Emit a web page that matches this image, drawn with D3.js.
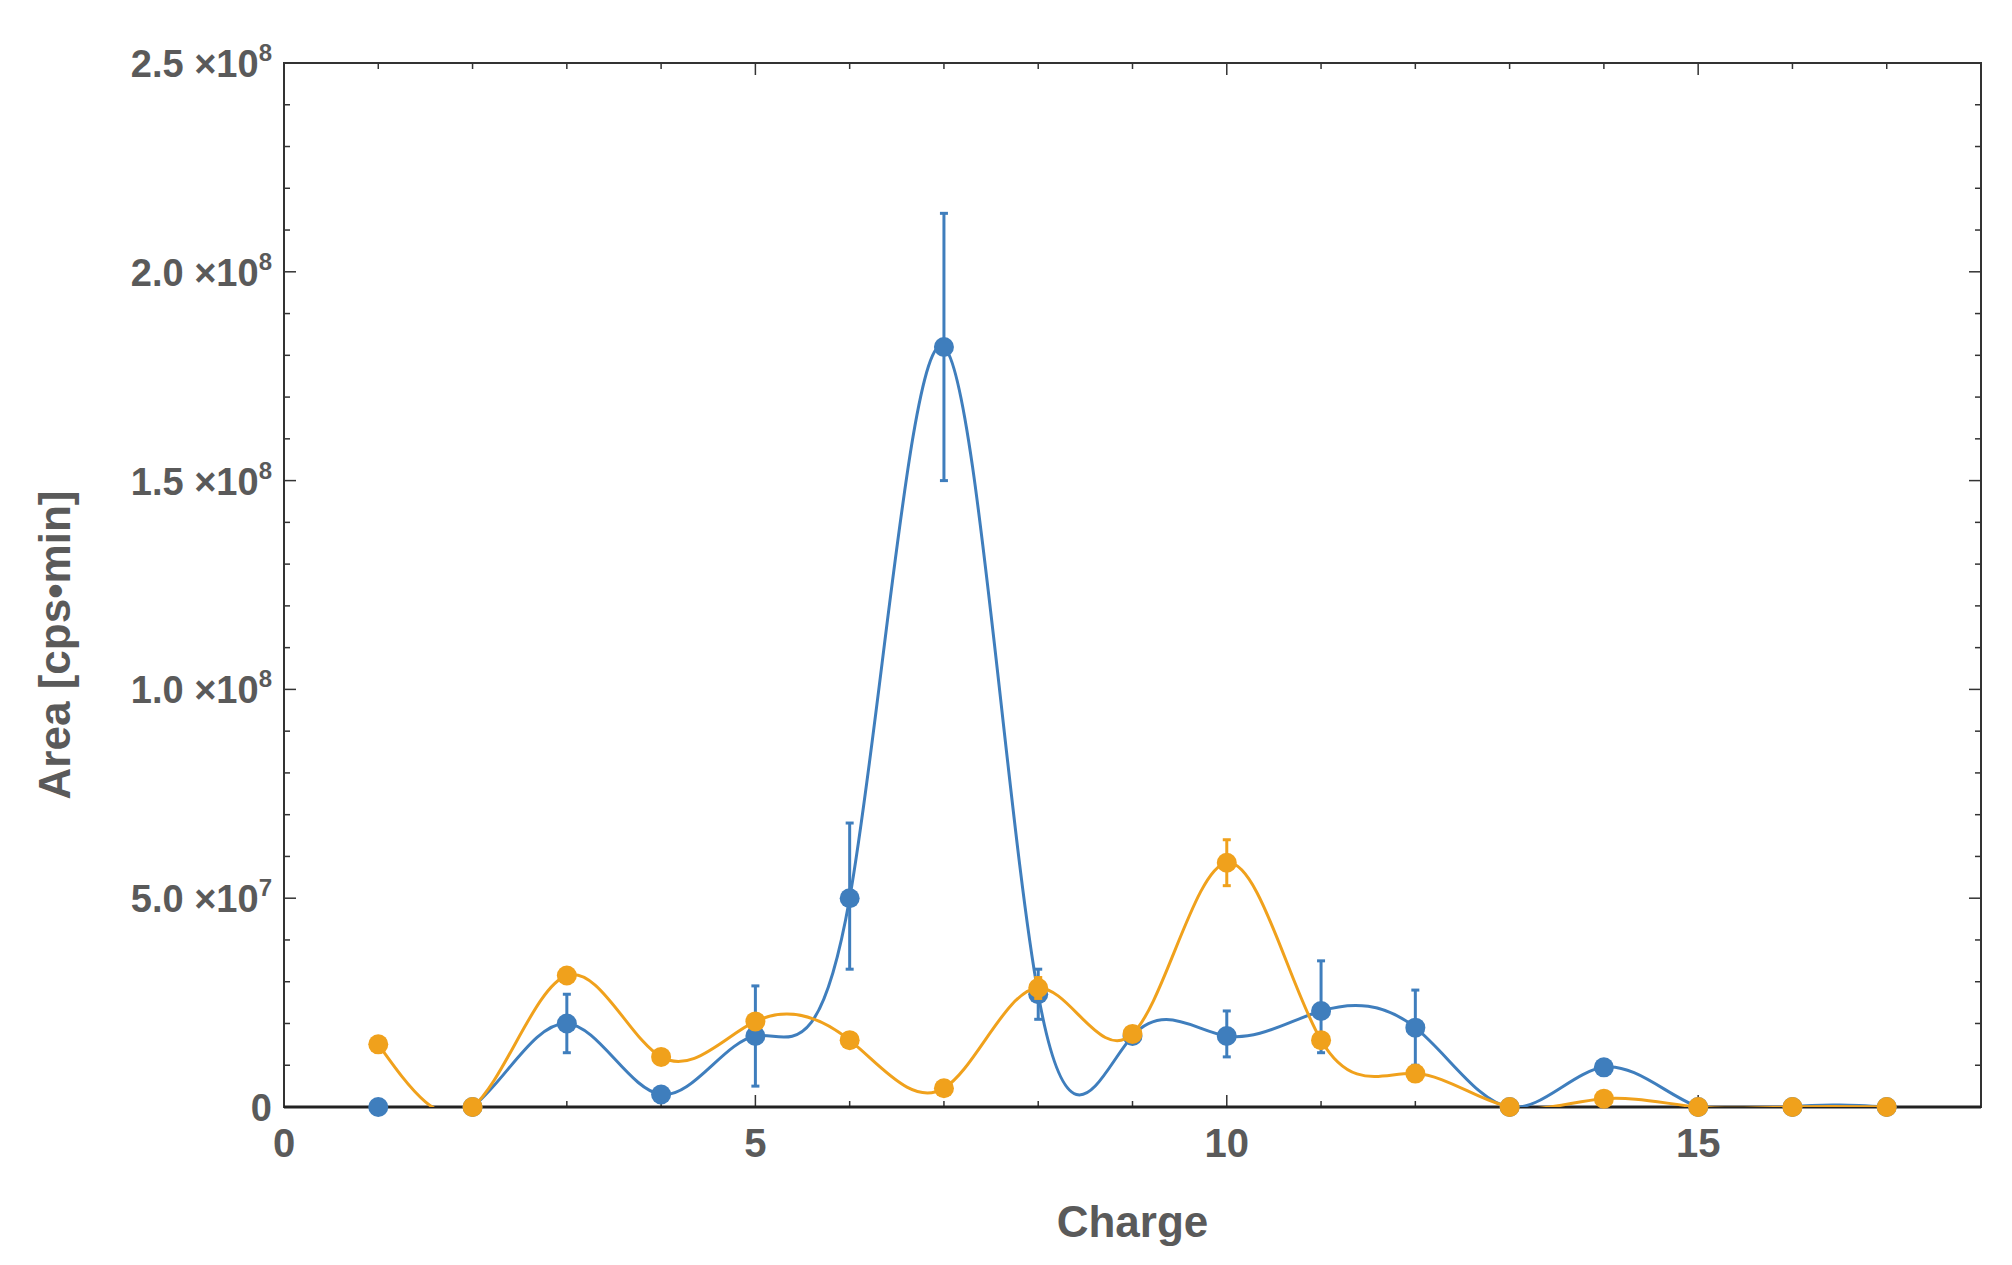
<!DOCTYPE html>
<html><head><meta charset="utf-8">
<script src="https://cdn.jsdelivr.net/npm/d3@7"></script>
<style>body{margin:0;background:#fff}text{font-family:"Liberation Sans",Arial,sans-serif;fill:#5a5a5a;font-weight:bold}</style>
</head><body>
<script>
// charge states and areas
var charges = [1,2,3,4,5,6,7,8,9,10,11,12,13,14,15,16,17];
var blueVals = [0,0,2.0e7,0.3e7,1.7e7,5.0e7,1.82e8,2.7e7,1.7e7,1.7e7,2.3e7,1.9e7,0,0.95e7,0,0,0];
var blueLo   = [0,0,1.3e7,0.3e7,0.5e7,3.3e7,1.5e8,2.1e7,1.7e7,1.2e7,1.3e7,1.0e7,0,0.95e7,0,0,0];
var blueHi   = [0,0,2.7e7,0.3e7,2.9e7,6.8e7,2.14e8,3.3e7,1.7e7,2.3e7,3.5e7,2.8e7,0,0.95e7,0,0,0];
var orangeVals = [1.5e7,0,3.15e7,1.2e7,2.05e7,1.6e7,0.45e7,2.85e7,1.75e7,5.85e7,1.6e7,0.8e7,0,0.2e7,0,0,0];
var orangeLo   = [1.5e7,0,3.15e7,1.2e7,2.05e7,1.6e7,0.45e7,2.6e7,1.75e7,5.3e7,1.6e7,0.8e7,0,0.2e7,0,0,0];
var orangeHi   = [1.5e7,0,3.15e7,1.2e7,2.05e7,1.6e7,0.45e7,3.1e7,1.75e7,6.4e7,1.6e7,0.8e7,0,0.2e7,0,0,0];
var yTicks = [0,5e7,1e8,1.5e8,2e8,2.5e8];
var yTickMant = ["0","5.0","1.0","1.5","2.0","2.5"];
var yTickExp = ["","7","8","8","8","8"];

var W = 2012, H = 1265;
var pLeft = 284, pRight = 1981, pTop = 63, pBottom = 1107;
var x = d3.scaleLinear().domain([0,18]).range([pLeft,pRight]);
var y = d3.scaleLinear().domain([0,2.5e8]).range([pBottom,pTop]);

var svg = d3.select('body').append('svg').attr('width',W).attr('height',H);
svg.append('defs').append('clipPath').attr('id','clip')
   .append('rect').attr('x',pLeft).attr('y',pTop).attr('width',pRight-pLeft).attr('height',pBottom-pTop);

// ticks, inward on all four sides
var tk = svg.append('g').attr('stroke','#333').attr('stroke-width',1.5);
d3.range(0,19).forEach(function(v){
  var len = v%5==0 ? 12 : 6;
  tk.append('line').attr('x1',x(v)).attr('x2',x(v)).attr('y1',pBottom).attr('y2',pBottom-len);
  tk.append('line').attr('x1',x(v)).attr('x2',x(v)).attr('y1',pTop).attr('y2',pTop+len);
});
d3.range(0,26).forEach(function(i){
  var v=i*1e7, len = i%5==0 ? 12 : 6;
  tk.append('line').attr('y1',y(v)).attr('y2',y(v)).attr('x1',pLeft).attr('x2',pLeft+len);
  tk.append('line').attr('y1',y(v)).attr('y2',y(v)).attr('x1',pRight).attr('x2',pRight-len);
});
svg.append('rect').attr('x',pLeft).attr('y',pTop).attr('width',pRight-pLeft).attr('height',pBottom-pTop)
   .attr('fill','none').attr('stroke','#333').attr('stroke-width',2);
svg.append('line').attr('x1',pLeft).attr('x2',pRight).attr('y1',pBottom).attr('y2',pBottom)
   .attr('stroke','#222').attr('stroke-width',3);

// tick labels
[0,5,10,15].forEach(function(v){
  svg.append('text').attr('x',x(v)).attr('y',pBottom+50).attr('text-anchor','middle')
     .attr('font-size',40).text(v);
});
yTicks.forEach(function(v,i){
  var t = svg.append('text').attr('x',pLeft-12).attr('y',y(v)+14).attr('text-anchor','end').attr('font-size',38);
  if (yTickExp[i]=="") { t.text(yTickMant[i]); return; }
  t.append('tspan').text(yTickMant[i]+' \u00d710');
  t.append('tspan').attr('font-size',24).attr('dy',-16).text(yTickExp[i]);
});
svg.append('text').attr('x',(pLeft+pRight)/2).attr('y',1237).attr('text-anchor','middle')
   .attr('font-size',44).text('Charge');
svg.append('text').attr('transform','translate(70,'+((pTop+pBottom)/2+60)+') rotate(-90)')
   .attr('text-anchor','middle').attr('font-size',44).text('Area [cps\u2022min]');

function series(vals, lo, hi, color){
  var pts = charges.map(function(c,i){return [c, vals[i]];});
  var line = d3.line().x(function(d){return x(d[0]);}).y(function(d){return y(d[1]);}).curve(d3.curveNatural);
  svg.append('path').attr('d',line(pts)).attr('fill','none').attr('stroke',color)
     .attr('stroke-width',3).attr('clip-path','url(#clip)');
  var g = svg.append('g').attr('stroke',color).attr('stroke-width',3);
  charges.forEach(function(c,i){
    if (hi[i]-lo[i] <= 0) return;
    g.append('line').attr('x1',x(c)).attr('x2',x(c)).attr('y1',y(lo[i])).attr('y2',y(hi[i]));
    g.append('line').attr('x1',x(c)-4).attr('x2',x(c)+4).attr('y1',y(lo[i])).attr('y2',y(lo[i]));
    g.append('line').attr('x1',x(c)-4).attr('x2',x(c)+4).attr('y1',y(hi[i])).attr('y2',y(hi[i]));
  });
  svg.append('g').selectAll('circle').data(pts).enter().append('circle')
     .attr('cx',function(d){return x(d[0]);}).attr('cy',function(d){return y(d[1]);})
     .attr('r',10).attr('fill',color);
}
series(blueVals, blueLo, blueHi, '#3f7ebd');
series(orangeVals, orangeLo, orangeHi, '#f0a11c');
</script>
</body></html>
